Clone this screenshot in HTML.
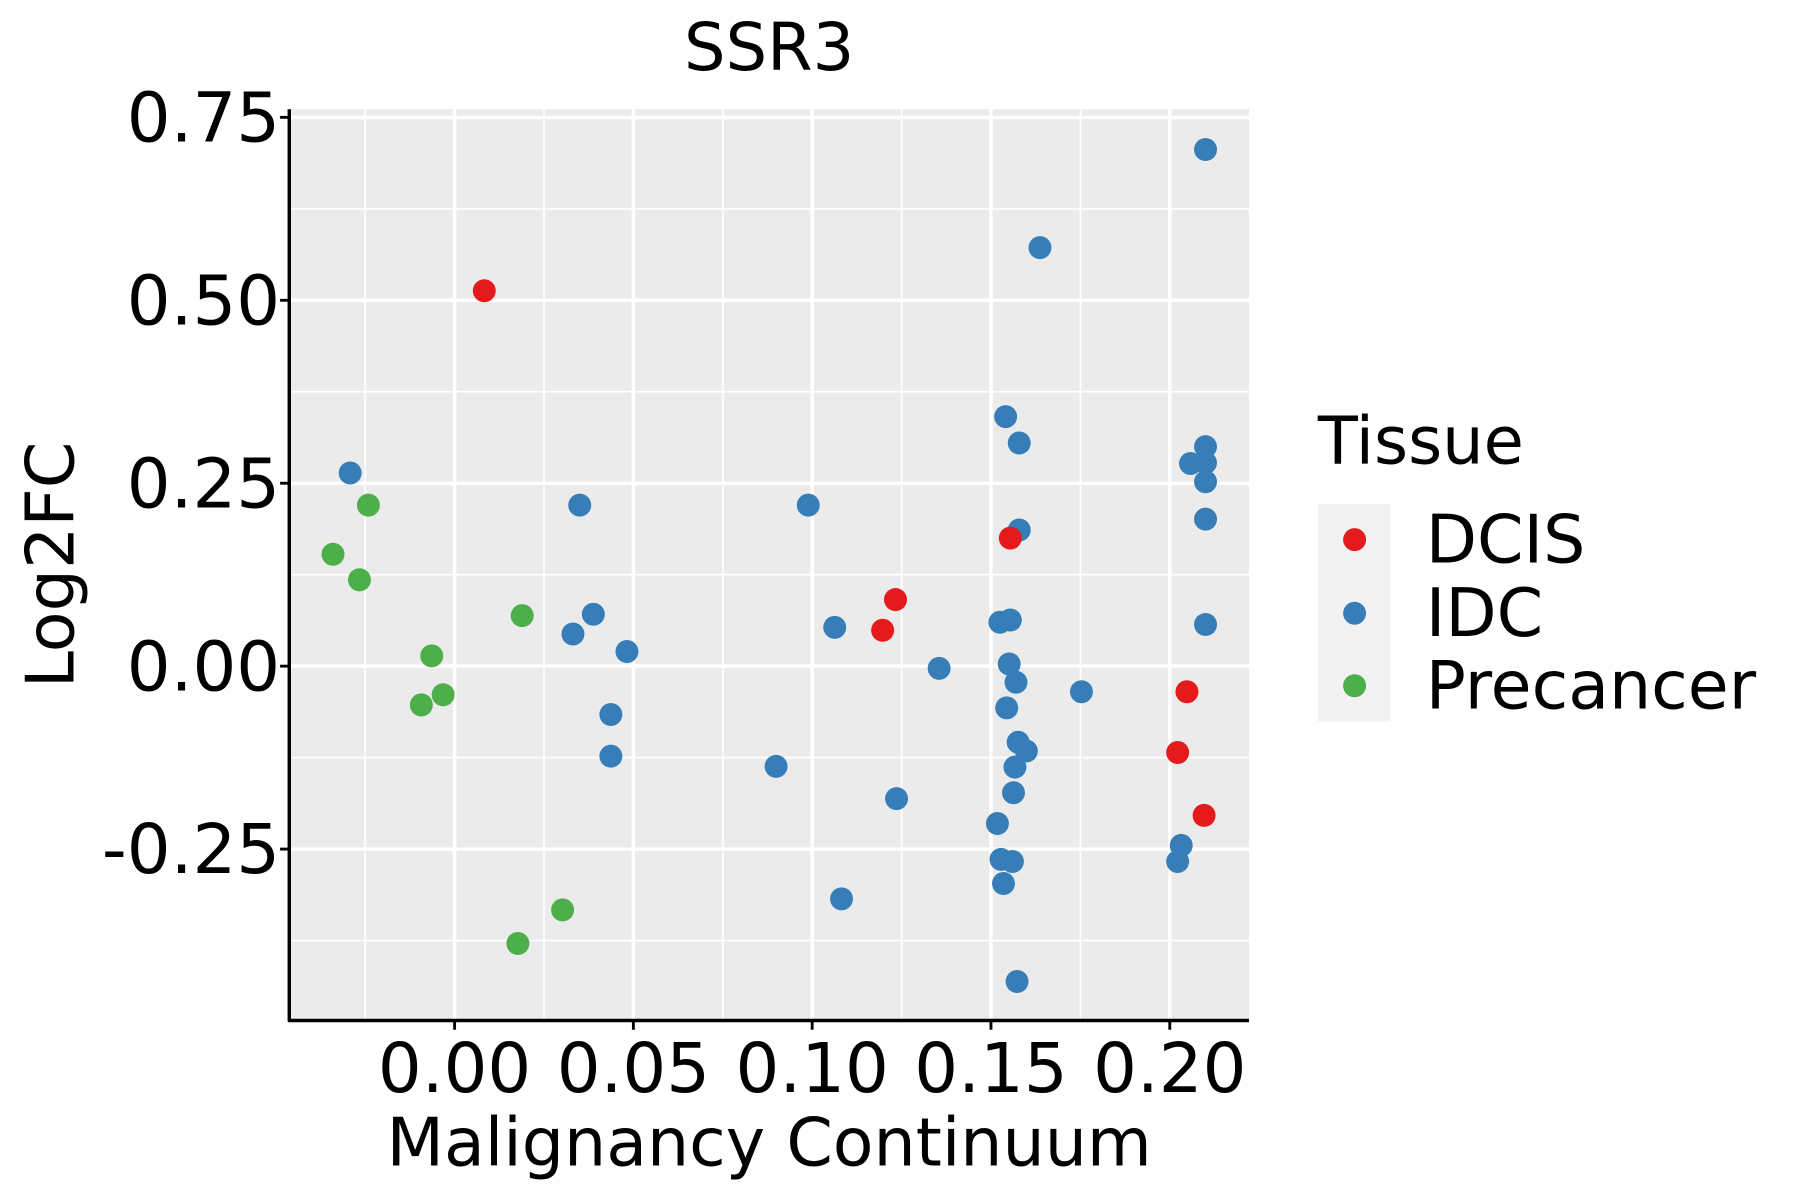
<!DOCTYPE html>
<html><head><meta charset="utf-8"><style>
html,body{margin:0;padding:0;background:#fff;}
svg{display:block;}
text{font-family:"DejaVu Sans","Liberation Sans",sans-serif;fill:#000;}
</style></head><body>
<svg id="chart" width="1800" height="1200" viewBox="0 0 1568 1043" preserveAspectRatio="none" xmlns="http://www.w3.org/2000/svg">
<rect x="252" y="95" width="836" height="792" fill="#ebebeb"/>
<g id="grid"></g>
<g id="points"></g>
<g id="axes"></g>
<text x="670" y="61" font-size="57" text-anchor="middle">SSR3</text>
<text x="670" y="1013" font-size="58" text-anchor="middle">Malignancy Continuum</text>
<text x="0" y="0" font-size="58" text-anchor="middle" transform="translate(64,491) rotate(-90)">Log2FC</text>
<g>
<text x="1148" y="403" font-size="57">Tissue</text>
<rect x="1148" y="438" width="63" height="189" fill="#f2f2f2"/>
<circle cx="1180" cy="469" r="10" fill="#e41a1c"/>
<circle cx="1180" cy="533" r="10" fill="#377eb8"/>
<circle cx="1180" cy="596" r="10" fill="#4daf4a"/>
<text x="1242" y="489" font-size="58">DCIS</text>
<text x="1242" y="553" font-size="58">IDC</text>
<text x="1242" y="616" font-size="58">Precancer</text>
</g>
</svg>
<script>
const xTicks = [0, 0.05, 0.10, 0.15, 0.20];
const xTickLabels = ["0.00", "0.05", "0.10", "0.15", "0.20"];
const yTicks = [-0.25, 0, 0.25, 0.5, 0.75];
const yTickLabels = ["-0.25", "0.00", "0.25", "0.50", "0.75"];
const dcisX = [0.0083,0.1233,0.1197,0.1554,0.2048,0.2022,0.2096];
const dcisY = [0.513,0.091,0.049,0.175,-0.035,-0.118,-0.204];
const idcX = [0.2100,0.1637,0.1541,0.1579,0.2100,0.2058,0.2100,0.2100,0.2100,0.1579,-0.0292,0.0350,0.0989,0.0388,0.0331,0.0482,0.1063,0.1525,0.1554,0.2100,0.1355,0.1551,0.1570,0.1753,0.1544,0.0437,0.0437,0.0899,0.1576,0.1599,0.1567,0.1563,0.1236,0.1518,0.1528,0.1560,0.1535,0.1082,0.2032,0.2022,0.1573];
const idcY = [0.706,0.572,0.341,0.305,0.300,0.277,0.278,0.252,0.201,0.186,0.264,0.220,0.220,0.071,0.044,0.020,0.053,0.060,0.063,0.057,-0.003,0.003,-0.022,-0.035,-0.057,-0.066,-0.123,-0.137,-0.104,-0.116,-0.138,-0.173,-0.181,-0.215,-0.264,-0.267,-0.297,-0.318,-0.245,-0.267,-0.431];
const preX = [-0.0340,-0.0241,-0.0266,0.0189,-0.0064,-0.0032,-0.0093,0.0302,0.0177];
const preY = [0.153,0.220,0.118,0.069,0.014,-0.039,-0.053,-0.333,-0.379];

const NS = "http://www.w3.org/2000/svg";
const X0 = 252, X1 = 1088, Y0 = 95, Y1 = 887;
function sx(v){ return 396 + v * 3115; }
function sy(v){ return 579 - v * 636; }
function mk(tag, attrs, parent){
  const e = document.createElementNS(NS, tag);
  for (const k in attrs) e.setAttribute(k, attrs[k]);
  parent.appendChild(e);
  return e;
}
const grid = document.getElementById('grid');
const axes = document.getElementById('axes');
const pts = document.getElementById('points');
for (let i = 0; i < xTicks.length + 1; i++) {
  const v = xTicks[0] - 0.025 + i * 0.05;
  const x = sx(v);
  if (x < X0 || x > X1) continue;
  const l = mk('line', {x1:x, x2:x, y1:Y0, y2:Y1, stroke:'#fff', 'stroke-width':1.5}, grid);
  
  
}
for (let i = 0; i < yTicks.length + 1; i++) {
  const v = yTicks[0] - 0.125 + i * 0.25;
  const y = sy(v);
  if (y < Y0 || y > Y1) continue;
  const l = mk('line', {x1:X0, x2:X1, y1:y, y2:y, stroke:'#fff', 'stroke-width':1.5}, grid);
  
  
}
xTicks.forEach((v, i) => {
  const x = sx(v);
  const l = mk('line', {x1:x, x2:x, y1:Y0, y2:Y1, stroke:'#fff', 'stroke-width':3}, grid);
  
  
  const t = mk('line', {x1:x, x2:x, y1:Y1, y2:Y1 + 8, stroke:'#000', 'stroke-width':2.5}, axes);
  
  
  const tx = mk('text', {x:x, y:949, 'font-size':60, 'text-anchor':'middle'}, axes);
  tx.textContent = xTickLabels[i];
  
  
});
yTicks.forEach((v, i) => {
  const y = sy(v);
  const l = mk('line', {x1:X0, x2:X1, y1:y, y2:y, stroke:'#fff', 'stroke-width':3}, grid);
  
  
  const t = mk('line', {x1:X0 - 8, x2:X0, y1:y, y2:y, stroke:'#000', 'stroke-width':2.5}, axes);
  
  
  const tx = mk('text', {x:244, y:y + 21, 'font-size':60, 'text-anchor':'end'}, axes);
  tx.textContent = yTickLabels[i];
  
  
});
const ax = mk('line', {x1:X0, x2:X0, y1:Y0, y2:Y1 + 1, stroke:'#000', 'stroke-width':3}, axes);


const ay = mk('line', {x1:X0 - 1, x2:X1, y1:Y1, y2:Y1, stroke:'#000', 'stroke-width':3}, axes);



function drawSeries(xs, ys, color, name){
  xs.forEach((v, i) => {
    const c = mk('circle', {cx:sx(v), cy:sy(ys[i]), r:10, fill:color}, pts);
    
    
  });
}
drawSeries(idcX, idcY, '#377eb8', 'point-idc');
drawSeries(preX, preY, '#4daf4a', 'point-precancer');
drawSeries(dcisX, dcisY, '#e41a1c', 'point-dcis');
</script>
</body></html>
